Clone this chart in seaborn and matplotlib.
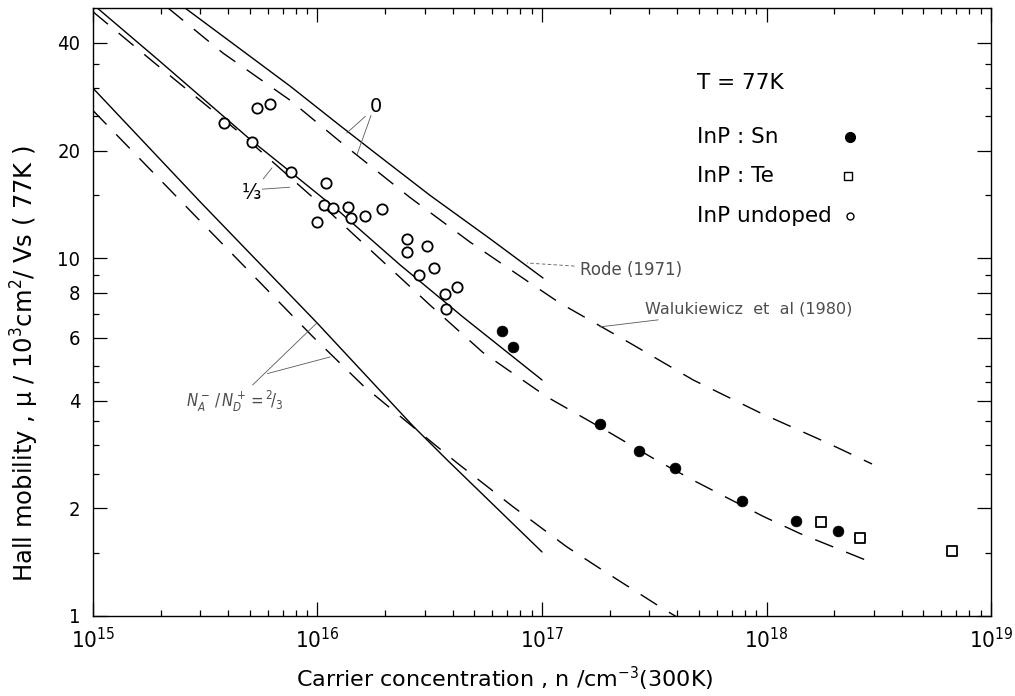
import pandas as pd
import seaborn as sns
import matplotlib.pyplot as plt
from matplotlib.ticker import FixedLocator, NullFormatter, FixedFormatter

# theory curves (n in cm^-3, mobility in 10^3 cm^2/Vs)
# N_A/N_D = 0, Rode (solid) and Walukiewicz (dashed)
rode_0_n = [2.57e15, 4.21e15, 7.55e15, 1.26e16, 1.77e16, 3.17e16, 5.86e16, 1.01e17]
rode_0_mu = [50.1, 39.8, 30.3, 23.5, 19.9, 15.0, 11.35, 8.81]
walu_0_n = [2.16e15, 3.79e15, 7.53e15, 1.32e16, 2.58e16, 4.78e16, 8.85e16, 1.20e17,
            2.47e17, 4.71e17, 9.35e17, 1.86e18, 2.95e18]
walu_0_mu = [50.1, 37.5, 27.7, 20.7, 14.8, 11.1, 8.53, 7.50, 5.79, 4.57, 3.70, 3.05, 2.66]

# N_A/N_D = 1/3
rode_13_n = [1.0e15, 1.93e15, 5.10e15, 7.53e15, 1.22e16, 2.33e16, 4.45e16, 1.0e17]
rode_13_mu = [51.3, 36.1, 21.3, 17.5, 13.7, 9.59, 6.85, 4.57]
walu_13_n = [1.0e15, 1.93e15, 4.52e15, 1.14e16, 3.17e16, 5.46e16, 1.05e17, 2.01e17,
             3.25e17, 4.81e17, 9.64e17, 1.41e18, 2.95e18]
walu_13_mu = [48.9, 34.7, 22.4, 13.4, 7.40, 5.45, 4.10, 3.25, 2.72, 2.38, 1.90, 1.70, 1.41]

# N_A/N_D = 2/3
rode_23_n = [1.0e15, 3.03e15, 9.95e15, 2.66e16, 3.78e16, 1.0e17]
rode_23_mu = [29.9, 14.3, 6.60, 3.40, 2.73, 1.51]
walu_23_n = [1.0e15, 3.16e15, 9.55e15, 1.60e16, 2.66e16, 4.18e16, 7.43e16, 1.29e17,
             1.87e17, 3.36e17, 4.56e17]
walu_23_mu = [25.9, 12.3, 6.03, 4.40, 3.38, 2.68, 2.02, 1.56, 1.34, 1.06, 0.944]

# measured samples
sn_n = [6.64e16, 7.43e16, 1.81e17, 2.70e17, 3.91e17, 7.78e17, 1.35e18, 2.08e18]
sn_mu = [6.27, 5.65, 3.44, 2.89, 2.59, 2.10, 1.84, 1.73]
te_n = [1.75e18, 2.61e18, 6.70e18]
te_mu = [1.83, 1.65, 1.52]
und_n = [3.84e15, 5.10e15, 5.38e15, 6.14e15, 7.62e15, 9.95e15, 1.09e16, 1.07e16,
         1.17e16, 1.37e16, 1.41e16, 1.63e16, 1.94e16, 2.51e16, 2.51e16, 3.08e16,
         3.30e16, 2.83e16, 4.18e16, 3.70e16, 3.73e16]
und_mu = [23.9, 21.1, 26.3, 27.0, 17.4, 12.6, 16.2, 14.1, 13.8, 13.9, 13.0, 13.1,
          13.7, 11.3, 10.4, 10.8, 9.4, 9.0, 8.3, 7.95, 7.2]

y_major = [1, 2, 4, 6, 8, 10, 20, 40]
y_minor = [1.5, 2.5, 3, 3.5, 4.5, 5, 7, 9, 15, 25, 30, 35]

sns.set_style("ticks")
plt.rcParams['font.family'] = ['DejaVu Sans']
plt.rcParams['font.stretch'] = 'condensed'
plt.rcParams['text.color'] = 'black'
plt.rcParams['axes.labelcolor'] = 'black'
plt.rcParams['xtick.color'] = 'black'
plt.rcParams['ytick.color'] = 'black'

fig, ax = plt.subplots(figsize=(10.15, 6.96), dpi=100)
fig.subplots_adjust(left=0.0916, right=0.9764, bottom=0.115, top=0.9885)
ax.set_xscale('log')
ax.set_yscale('log')

dashed = (0, (14, 10))
curves = [(rode_0_n, rode_0_mu, '-'), (walu_0_n, walu_0_mu, dashed),
          (rode_13_n, rode_13_mu, '-'), (walu_13_n, walu_13_mu, dashed),
          (rode_23_n, rode_23_mu, '-'), (walu_23_n, walu_23_mu, dashed)]
for n, mu, ls in curves:
    sns.lineplot(x=n, y=mu, ax=ax, color='black', lw=1.0, sort=False,
                 estimator=None, linestyle=ls)

sns.scatterplot(x=sn_n, y=sn_mu, ax=ax, color='black', marker='o', s=60,
                edgecolor='black', linewidth=0.5, zorder=4)
sns.scatterplot(x=te_n, y=te_mu, ax=ax, color='black', marker='s', s=48,
                facecolor='white', edgecolor='black', linewidth=1.3, zorder=4)
sns.scatterplot(x=und_n, y=und_mu, ax=ax, color='black', marker='o', s=55,
                facecolor='white', edgecolor='black', linewidth=1.3, zorder=4)

ax.set_xlim(1e15, 1e19)
ax.set_ylim(1, 50.1)

# ticks
ax.yaxis.set_major_locator(FixedLocator(y_major))
ax.yaxis.set_major_formatter(FixedFormatter([str(v) for v in y_major]))
ax.yaxis.set_minor_locator(FixedLocator(y_minor))
ax.yaxis.set_minor_formatter(NullFormatter())
ax.tick_params(which='both', direction='in', top=True, right=True, width=0.9, color='black')
ax.tick_params(which='major', length=10)
ax.tick_params(which='minor', length=4.5)
ax.tick_params(axis='y', which='major', pad=9, labelsize=14.5)
ax.tick_params(axis='x', which='major', pad=8, labelsize=16)
for s in ax.spines.values():
    s.set_linewidth(1.0)
    s.set_color('black')

ax.set_xlabel("Carrier concentration , n /cm$^{-3}$(300K)", fontsize=16, fontstretch='normal')
ax.set_ylabel("Hall mobility , \u03bc / 10$^3$cm$^2$/ Vs ( 77K )", fontsize=17.5,
              fontstretch='normal')
ax.xaxis.set_label_coords(0.459, -0.08)
ax.yaxis.set_label_coords(-0.058, 0.415)

# curve labels with leader lines
lead = dict(arrowstyle='-', lw=0.6, color='0.35', shrinkA=1, shrinkB=0)
ax.annotate("0", xy=(1.35e16, 22.4), xytext=(1.82e16, 26.5), ha='center', va='center',
            fontsize=14, fontstretch='normal', arrowprops=lead)
ax.annotate("", xy=(1.50e16, 19.5), xytext=(1.74e16, 25.3), arrowprops=lead)
ax.annotate("\u2153", xy=(6.27e15, 17.9), xytext=(5.10e15, 15.2), ha='center', va='center',
            fontsize=16, arrowprops=lead)
ax.annotate("", xy=(7.53e15, 15.8), xytext=(5.6e15, 15.6), arrowprops=lead)
ax.annotate("$N_A^- \\, / \\, N_D^+ = {}^2\\!/_3$", xy=(9.95e15, 6.60), xytext=(4.30e15, 3.97),
            ha='center', va='center', fontsize=12, color='0.3', arrowprops=lead)
ax.annotate("", xy=(1.14e16, 5.30), xytext=(5.9e15, 4.75), arrowprops=lead)
ax.annotate("Rode (1971)", xy=(8.6e16, 9.7), xytext=(1.48e17, 9.29), ha='left', va='center',
            fontsize=12, fontstretch='normal', color='0.3',
            arrowprops=dict(arrowstyle='-', lw=0.7, color='0.45', ls=(0, (3, 3)),
                            shrinkA=2, shrinkB=0))
ax.annotate("Walukiewicz  et  al (1980)", xy=(1.81e17, 6.43), xytext=(2.88e17, 7.22),
            ha='left', va='center', fontsize=11.5, fontstretch='normal', color='0.3',
            arrowprops=lead)

# key
key = dict(transform=ax.transAxes, ha='left', va='center', fontsize=15.5, fontstretch='normal')
ax.text(0.6726, 0.877, "T = 77K", **key)
ax.text(0.6726, 0.788, "InP : Sn", **key)
ax.text(0.6726, 0.724, "InP : Te", **key)
ax.text(0.6726, 0.658, "InP undoped", **key)
ax.plot([0.843], [0.788], 'o', color='black', ms=7, transform=ax.transAxes)
ax.plot([0.841], [0.724], 's', mfc='white', mec='black', ms=5.5, mew=1.0, transform=ax.transAxes)
ax.plot([0.843], [0.658], 'o', mfc='white', mec='black', ms=5, mew=1.0, transform=ax.transAxes)

fig.savefig("out.png", dpi=100)
